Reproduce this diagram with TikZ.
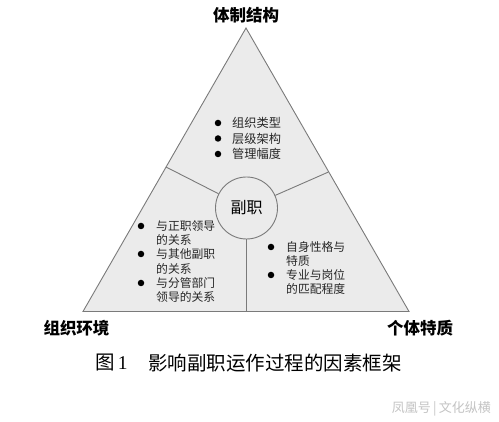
\documentclass[tikz,border=0pt]{standalone}
\usepackage{fontspec}
\newfontfamily\cjk{Noto Sans CJK SC}
\newfontfamily\serifnum{Liberation Serif}
\definecolor{trifill}{HTML}{EBEBEB}
\definecolor{edgegray}{HTML}{7A7A7A}
\definecolor{wmgray}{HTML}{C4C4C4}
\tikzset{
  edge/.style={draw=edgegray, line width=0.9pt},
  dotmark/.style={circle, fill=black, inner sep=0pt, minimum size=6.5pt},
  itemtxt/.style={anchor=west, inner sep=0pt, font=\cjk\fontsize{11.8}{14}\selectfont, text=black!85},
  toptxt/.style={anchor=west, inner sep=0pt, font=\cjk\fontsize{12.2}{14}\selectfont, text=black!85},
  headlbl/.style={inner sep=0pt, font=\cjk\bfseries\fontsize{16.5}{18}\selectfont},
}
\begin{document}
\begin{tikzpicture}[x=1pt,y=-1pt]
\useasboundingbox[fill=white] (0,0) rectangle (499,422);
\coordinate (A) at (246,28);
\coordinate (L) at (83,311.5);
\coordinate (R) at (409,311.5);
\coordinate (eL) at (166,167);
\coordinate (eR) at (328.5,172);
\coordinate (eB) at (246.5,311.5);
\fill[trifill] (A) -- (L) -- (R) -- cycle;
\draw[edge, line join=miter] (A) -- (L) -- (R) -- cycle;
\node[circle, edge, fill=trifill, minimum size=62pt, inner sep=0pt,
      font=\cjk\fontsize{16}{18}\selectfont] (fz) at (246.5,208) {副职};
\draw[edge] (fz) -- (eL);
\draw[edge] (fz) -- (eR);
\draw[edge] (fz) -- (eB);

% labels
\node[headlbl] (top) at (246,15) {体制结构};
\node[headlbl] (lft) at (76.5,328) {组织环境};
\node[headlbl] (rgt) at (420,328) {个体特质};

% top items
\node[dotmark] (tb1) at (218,123) {};
\node[dotmark] (tb2) at (218,138.5) {};
\node[dotmark] (tb3) at (218,154) {};
\node[toptxt] (tt1) at (232,123) {组织类型};
\node[toptxt] (tt2) at (232,138.5) {层级架构};
\node[toptxt] (tt3) at (232,154) {管理幅度};

% left items
\node[dotmark] (lb1) at (141,226) {};
\node[dotmark] (lb2) at (141,254) {};
\node[dotmark] (lb3) at (141,283) {};
\node[itemtxt] (lt1) at (156,226) {与正职领导};
\node[itemtxt] (lt2) at (156,240) {的关系};
\node[itemtxt] (lt3) at (156,254) {与其他副职};
\node[itemtxt] (lt4) at (156,268.5) {的关系};
\node[itemtxt] (lt5) at (156,283) {与分管部门};
\node[itemtxt] (lt6) at (156,297.5) {领导的关系};

% right items
\node[dotmark] (rb1) at (271,247) {};
\node[dotmark] (rb2) at (271,275) {};
\node[itemtxt] (rt1) at (286,247) {自身性格与};
\node[itemtxt] (rt2) at (286,261) {特质};
\node[itemtxt] (rt3) at (286,275) {专业与岗位};
\node[itemtxt] (rt4) at (286,289) {的匹配程度};

% caption
\node[anchor=west, inner sep=0pt, font=\cjk\fontsize{19.5}{22}\selectfont] (capno) at (95,363) {图\,{\serifnum 1}};
\node[anchor=west, inner sep=0pt, font=\cjk\fontsize{19.5}{22}\selectfont] (cap) at (148,363) {影响副职运作过程的因素框架};

% watermark
\node[anchor=east, inner sep=0pt, text=wmgray, font=\cjk\fontsize{13}{15}\selectfont] (wm) at (491,409) {凤凰号\,|\,文化纵横};
\end{tikzpicture}
\end{document}
